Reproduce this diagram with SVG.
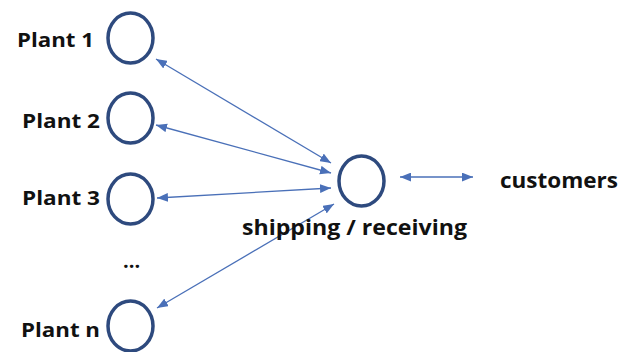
<svg xmlns="http://www.w3.org/2000/svg" width="629" height="352" viewBox="0 0 629 352">
<style>
.node{fill:none;stroke:#2E4A7E;stroke-width:3.5}
.lbl{font-family:"Open Sans","Liberation Sans",sans-serif;font-weight:bold;font-size:20px;fill:#111}
.big{font-size:21.5px}
.conn{stroke:#4A70B8;stroke-width:1.3;fill:none;marker-start:url(#ah);marker-end:url(#ah)}
</style>
<defs>
<marker id="ah" viewBox="0 0 10 8" refX="10" refY="4" markerWidth="11" markerHeight="9" markerUnits="userSpaceOnUse" orient="auto-start-reverse">
<path d="M0,0 L10,4 L0,8 Z" fill="#4A70B8"/>
</marker>
</defs>
<rect width="629" height="352" fill="#fff"/>
<g id="connectors">
<line class="conn" x1="156" y1="59" x2="331" y2="163"/>
<line class="conn" x1="156" y1="125" x2="331" y2="173"/>
<line class="conn" x1="157" y1="198" x2="331" y2="188"/>
<line class="conn" x1="157" y1="308" x2="334" y2="204"/>
<line class="conn" x1="400" y1="177" x2="473" y2="177"/>
</g>
<g id="plant1">
<ellipse class="node" cx="130.5" cy="38" rx="22.5" ry="25"/>
<text class="lbl" x="17" y="47" textLength="77" lengthAdjust="spacingAndGlyphs">Plant 1</text>
</g>
<g id="plant2">
<ellipse class="node" cx="130.5" cy="118" rx="22.5" ry="25"/>
<text class="lbl" x="22" y="128" textLength="78" lengthAdjust="spacingAndGlyphs">Plant 2</text>
</g>
<g id="plant3">
<ellipse class="node" cx="130.5" cy="199" rx="22.5" ry="25"/>
<text class="lbl" x="22" y="205" textLength="78" lengthAdjust="spacingAndGlyphs">Plant 3</text>
</g>
<g id="ellipsis">
<text class="lbl" x="123" y="268" font-size="16">...</text>
</g>
<g id="plantn">
<ellipse class="node" cx="130.5" cy="326" rx="22.5" ry="25"/>
<text class="lbl" x="21" y="337" textLength="79" lengthAdjust="spacingAndGlyphs">Plant n</text>
</g>
<g id="shipping">
<ellipse class="node" cx="361.5" cy="181" rx="22.5" ry="25"/>
<text class="lbl big" x="242" y="235" textLength="225" lengthAdjust="spacingAndGlyphs">shipping / receiving</text>
</g>
<g id="customers">
<text class="lbl big" x="500" y="188" textLength="118" lengthAdjust="spacingAndGlyphs">customers</text>
</g>
</svg>
